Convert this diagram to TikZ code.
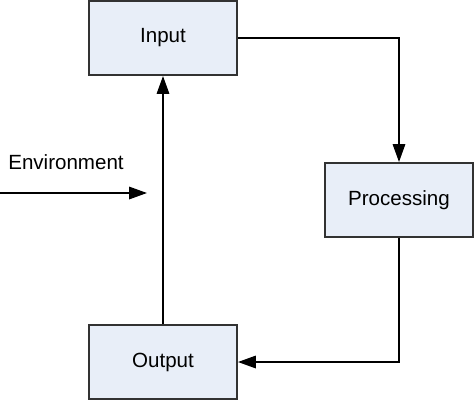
\documentclass[tikz,border=0pt]{standalone}
\usepackage{fontspec}
\setmainfont{Liberation Sans}
\usetikzlibrary{arrows.meta}
\definecolor{boxfill}{RGB}{232,238,248}
\definecolor{boxline}{RGB}{50,50,50}

\begin{document}
\begin{tikzpicture}[x=0.02cm,y=-0.02cm,
                    stage/.style={draw=boxline,line width=1.1pt,fill=boxfill,
                                  minimum width=2.96cm,minimum height=1.48cm,
                                  inner sep=0pt,font=\fontsize{11.7}{14}\selectfont},
                    flow/.style={line width=1pt,-{Triangle[length=0.36cm,width=0.25cm]}},
                    flow label/.style={inner sep=0pt,font=\fontsize{11.7}{14}\selectfont}]
            \path[use as bounding box] (0,0) rectangle (474,400);

            \coordinate (input pos) at (163,38);
            \coordinate (processing pos) at (399,200);
            \coordinate (output pos) at (163,362);
            \coordinate (env start) at (0,193);
            \coordinate (env end) at (147,193);

            \node[stage] (input) at (input pos) {Input};
            \node[stage] (processing) at (processing pos) {Processing};
            \node[stage] (output) at (output pos) {Output};
            \node[flow label] (env label) at (66,162) {Environment};

            \draw[flow] (input.east) -| (processing.north);
            \draw[flow] (processing.south) |- (output.east);
            \draw[flow] (output.north) -- (input.south);
            \draw[flow] (env start) -- (env end);
        \end{tikzpicture}
\end{document}
